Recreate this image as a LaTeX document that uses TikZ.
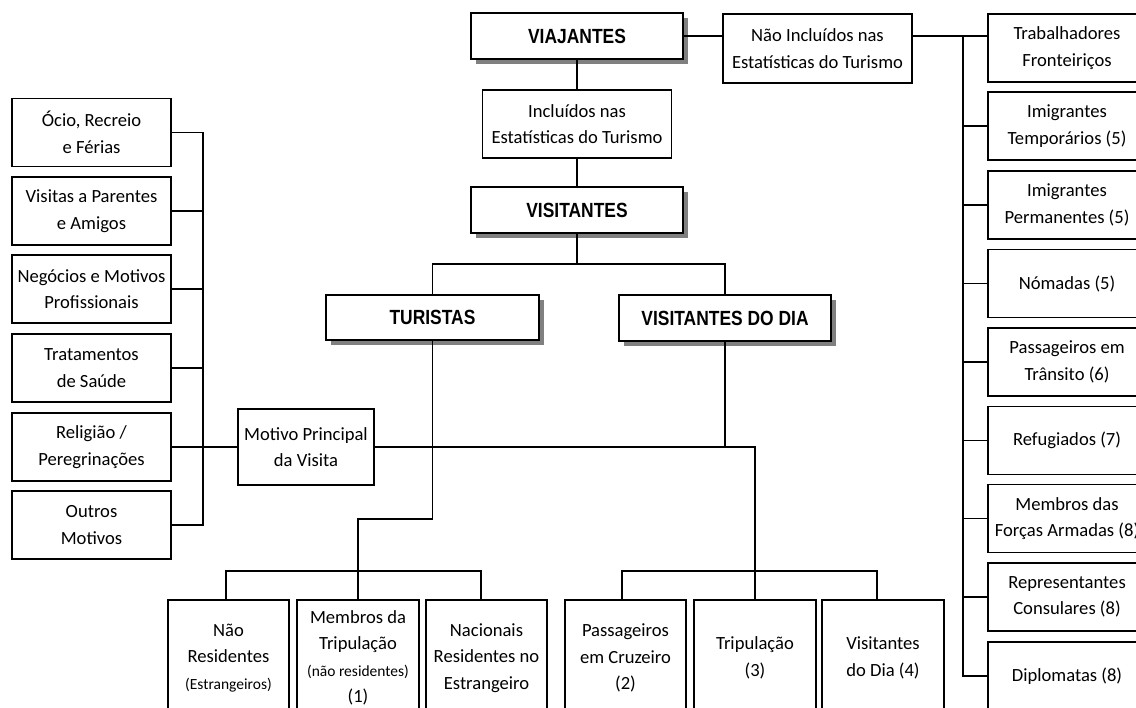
\documentclass[tikz,border=0pt]{standalone}
\usepackage{fontspec}
\setmainfont{Carlito}
\newfontfamily\hdfont{Liberation Sans}[FakeStretch=0.85]
\usetikzlibrary{shadows}
\newcommand\smalltxt{\fontsize{15.5}{26.5}\selectfont}

\begin{document}
\begin{tikzpicture}[x=1pt,y=-1pt,
  line width=1.8pt,
  every node/.style={inner sep=0pt},
  box/.style n args={2}{draw, fill=white, align=center,
    minimum width=#1, minimum height=#2,
    font=\fontsize{18.6}{26.5}\selectfont},
  hdr/.style n args={2}{box={#1}{#2},
    font=\hdfont\bfseries\fontsize{20.5}{24}\selectfont,
    drop shadow={shadow xshift=5pt, shadow yshift=-5pt, opacity=1, fill=black!50}}]

\useasboundingbox (0,0) rectangle (1136,708);
\fill[white] (0,0) rectangle (1136,708);
\clip (0,0) rectangle (1136,708);

% main hierarchy
\node[hdr={212}{46}] (via) at (577,36) {VIAJANTES};
\node[box={189}{69}] (nao) at (817.5,48.5) {Não Incluídos nas\\Estatísticas do Turismo};
\node[box={189}{68}] (inc) at (577,124) {Incluídos nas\\Estatísticas do Turismo};
\node[hdr={212}{46}] (vis) at (577,210) {VISITANTES};
\node[hdr={213}{45}] (tur) at (432.5,317.5) {TURISTAS};
\node[hdr={212}{46}] (vdd) at (725,318) {VISITANTES DO DIA};

% purposes of the visit
\node[box={159}{68}] (m1) at (91.5,132.5) {Ócio, Recreio\\e Férias};
\node[box={159}{68}] (m2) at (91.5,211) {Visitas a Parentes\\e Amigos};
\node[box={159}{68}] (m3) at (91.5,289) {Negócios e Motivos\\Profissionais};
\node[box={159}{68}] (m4) at (91.5,368) {Tratamentos\\de Saúde};
\node[box={159}{68}] (m5) at (91.5,447) {Religião /\\Peregrinações};
\node[box={159}{68}] (m6) at (91.5,525) {Outros\\Motivos};
\node[box={136}{76}] (mot) at (306,447) {Motivo Principal\\da Visita};

% travellers outside tourism statistics
\node[box={158}{68}] (x1) at (1067,48) {Trabalhadores\\Fronteiriços};
\node[box={158}{68}] (x2) at (1067,126) {Imigrantes\\Temporários (5)};
\node[box={158}{68}] (x3) at (1067,205) {Imigrantes\\Permanentes (5)};
\node[box={158}{68}] (x4) at (1067,283.5) {Nómadas (5)};
\node[box={158}{68}] (x5) at (1067,362) {Passageiros em\\Trânsito (6)};
\node[box={158}{68}] (x6) at (1067,440.5) {Refugiados (7)};
\node[box={158}{68}] (x7) at (1067,518.5) {Membros das\\Forças Armadas (8)};
\node[box={158}{68}] (x8) at (1067,597) {Representantes\\Consulares (8)};
\node[box={158}{68}] (x9) at (1067,676) {Diplomatas (8)};

% bottom categories
\node[box={121}{116}] (b1) at (228.5,658) {Não\\Residentes\\{\smalltxt (Estrangeiros)}};
\node[box={122}{116}] (b2) at (358,658) {Membros da\\Tripulação\\{\smalltxt (não residentes)}\\(1)};
\node[box={121}{116}] (b3) at (486.5,658) {Nacionais\\Residentes no\\Estrangeiro};
\node[box={121}{116}] (b4) at (625.5,658) {Passageiros\\em Cruzeiro\\(2)};
\node[box={122}{116}] (b5) at (755,658) {Tripulação\\(3)};
\node[box={122}{116}] (b6) at (883,658) {Visitantes\\do Dia (4)};

% connectors: top level
\draw (via.east) -- (via.east -| nao.west);
\draw (via.east -| nao.east) -- (via.east -| x1.west);
\coordinate (rt) at (963,36);
\draw (rt) |- (x9.west);
\foreach \k in {2,...,8} \draw (rt |- x\k.west) -- (x\k.west);
\draw (via.south) -- (inc.north);
\draw (inc.south) -- (vis.north);
\coordinate (vj) at (577,264);
\draw (vis.south) -- (vj);
\draw (tur.north) |- (vj) -| (vdd.north);

% connectors: purposes
\coordinate (lt) at (203,132.5);
\draw (m1.east) -| (lt |- m6.east) -- (m6.east);
\foreach \k in {2,3,4} \draw (m\k.east) -- (lt |- m\k.east);
\draw (m5.east) -- (mot.west);
\draw (mot.east) -- (mot.east -| vdd.south);

% connectors: tourists
\coordinate (tb) at (432.5,519);
\draw (tur.south) -- (tb) -| (b2.north);
\coordinate (lj) at (358,571);
\draw ([xshift=-2.5pt]b1.north) |- (lj) -| ([xshift=-5.5pt]b3.north);

% connectors: same-day visitors
\draw (vdd.south) |- (b5.north |- mot.east) -- (b5.north);
\coordinate (rj) at (755,571);
\draw ([xshift=-3.5pt]b4.north) |- (rj) -| ([xshift=-6pt]b6.north);
\end{tikzpicture}
\end{document}
